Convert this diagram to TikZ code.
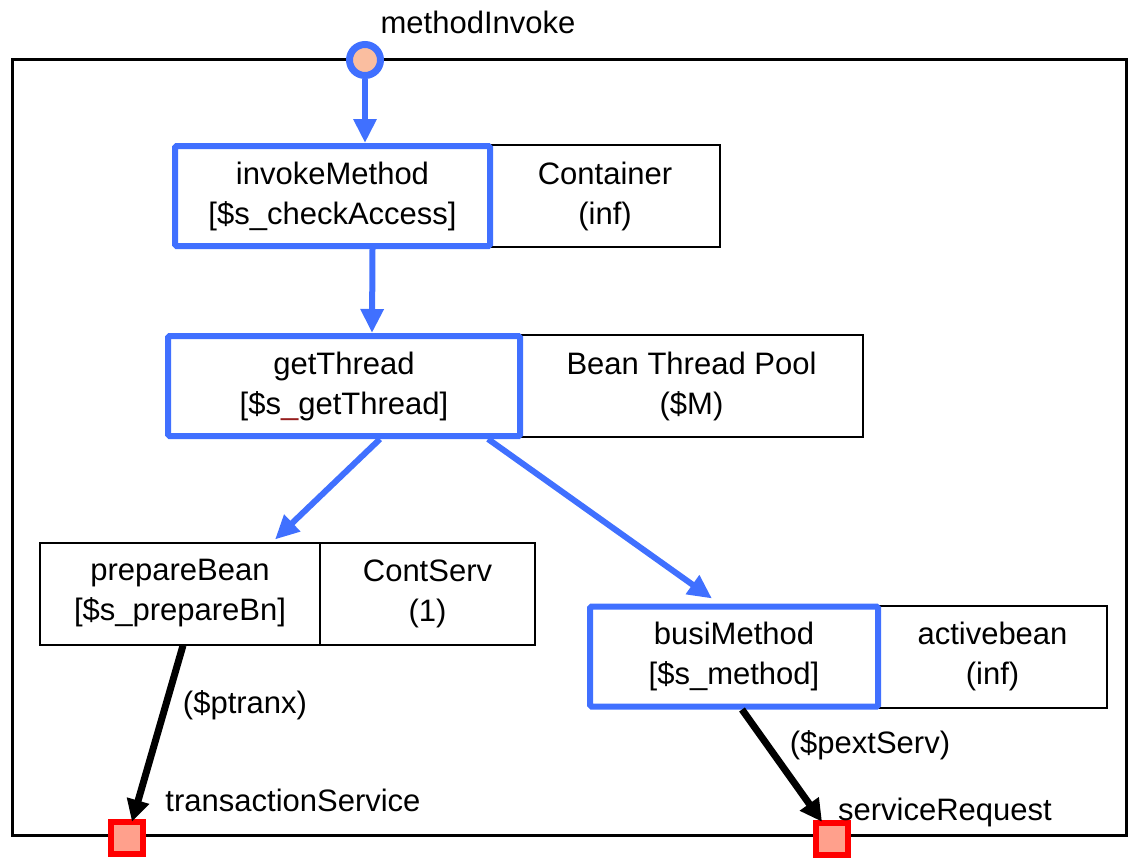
\documentclass[tikz,border=0pt]{standalone}
\usepackage{fontspec}
\setmainfont{Liberation Sans}
\usetikzlibrary{arrows.meta, positioning}

\definecolor{taskblue}{RGB}{64,112,255}
\definecolor{portfill}{RGB}{250,190,160}
\definecolor{reqred}{RGB}{255,0,0}
\definecolor{reqfill}{RGB}{255,160,140}
\definecolor{darkred}{RGB}{150,30,30}

\begin{document}
\begin{tikzpicture}[x=1pt,y=-1pt,
  every node/.style={font=\fontsize{31}{40}\selectfont, align=center, inner sep=0pt},
  task/.style={draw=taskblue, line width=6pt, fill=white, rounded corners=1.5pt, minimum height=100pt},
  res/.style={draw=black, line width=2pt, fill=white, minimum height=102pt},
  port/.style={circle, draw=taskblue, line width=7pt, fill=portfill, minimum size=31pt},
  req/.style={rectangle, draw=reqred, line width=6.5pt, fill=reqfill, minimum size=32pt},
  flow/.style={draw=taskblue, line width=6pt, -{Triangle[length=24pt,width=22pt]}},
  call/.style={draw=black, line width=7pt, -{Triangle[length=22pt,width=22pt]}}]

\useasboundingbox (0,0) rectangle (1128,859);

% the enclosing component
  \draw[line width=3pt] (12,60) rectangle (1126,835);

% define the tasks and their processors
  \node[res, minimum width=230pt]  (cont) at (605,196)   {Container\\(inf)};
  \node[task, minimum width=315pt] (iM)   at (332.5,196) {invokeMethod\\{[}\$s\_checkAccess{]}};

  \node[res, minimum width=343pt]  (pool) at (691.5,386) {Bean Thread Pool\\(\$M)};
  \node[task, minimum width=352pt] (gT)   at (344,386)   {getThread\\{[}\$s\textcolor{darkred}{\_}getThread{]}};

  \node[res, minimum width=280pt]  (pB)   at (180,593.5) {prepareBean\\{[}\$s\_prepareBn{]}};
  \node[res, minimum width=215pt]  (cs)   at (427.5,593.5) {ContServ\\(1)};

  \node[res, minimum width=229pt]  (ab)   at (992.5,656.5) {activebean\\(inf)};
  \node[task, minimum width=288pt] (bM)   at (734,656.5) {busiMethod\\{[}\$s\_method{]}};

% define the ports
  \node[port] (mI) at (365,60) {};
  \node (mIlabel) at (478,22) {methodInvoke};

  \node[req] (tS) at (127,838) {};
  \node (tSlabel) at (293,800) {transactionService};

  \node[req] (sR) at (832,839) {};
  \node (sRlabel) at (945,812) {serviceRequest};

% define the links
  \draw[flow] (mI) -- (iM.north -| mI);
  \draw[flow] ([xshift=40pt]iM.south) -- ([xshift=28pt]gT.north);
  \draw[flow] ([xshift=36pt]gT.south) -- ([xshift=95pt,yshift=2pt]pB.north);
  \draw[flow] ([xshift=144pt]gT.south) -- ([xshift=-22pt,yshift=5pt]bM.north);

  \draw[call] ([xshift=3pt]pB.south) -- ([xshift=5pt,yshift=-3pt]tS.north);
  \node (ptranx) at (245,705) {(\$ptranx)};

  \draw[call] ([xshift=8pt]bM.south) -- ([xshift=-10pt,yshift=-2pt]sR.north);
  \node (pextServ) at (870,745) {(\$pextServ)};

\end{tikzpicture}
\end{document}
